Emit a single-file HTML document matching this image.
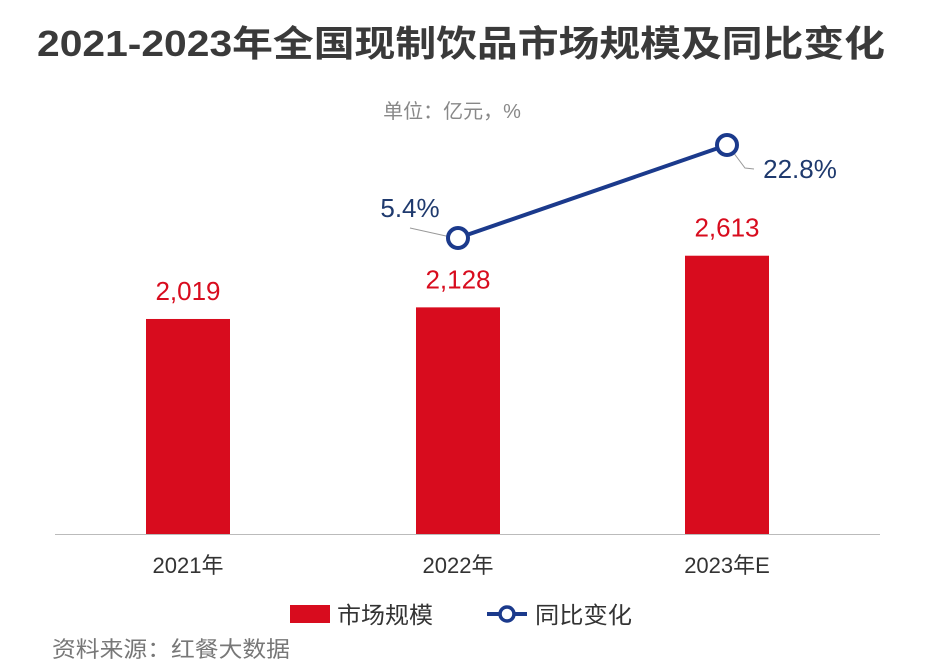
<!DOCTYPE html>
<html><head><meta charset="utf-8"><style>
body{margin:0;background:#fff;}
svg{display:block;font-family:"Liberation Sans","Noto Sans CJK SC",sans-serif;}
</style></head><body>
<svg id="c" width="931" height="672" viewBox="0 0 931 672" xmlns="http://www.w3.org/2000/svg">
<text x="37" y="56" font-size="36" font-weight="bold" fill="#3a3a3a" textLength="848" lengthAdjust="spacingAndGlyphs">2021-2023年全国现制饮品市场规模及同比变化</text>
<text x="452" y="118" text-anchor="middle" font-size="20" fill="#888">单位：亿元，%</text>
<line x1="55" y1="534.5" x2="880" y2="534.5" stroke="#bbb" stroke-width="1"/>
<g id="bars"></g><g id="line"></g><g id="xl"></g>
<g>
<rect x="290" y="605" width="40" height="18" fill="#d80c1e"/>
<text x="337" y="623" font-size="23" fill="#333" textLength="96" lengthAdjust="spacingAndGlyphs">市场规模</text>
<line x1="487" y1="614" x2="527" y2="614" stroke="#1b3a8c" stroke-width="4"/>
<circle cx="507" cy="614" r="7" fill="#fff" stroke="#1b3a8c" stroke-width="3.5"/>
<text x="535" y="623" font-size="23" fill="#333" textLength="97" lengthAdjust="spacingAndGlyphs">同比变化</text>
</g>
<text x="52" y="657" font-size="22" fill="#777" textLength="238" lengthAdjust="spacingAndGlyphs">资料来源：红餐大数据</text>
</svg>
<script>
const categories=["2021年","2022年","2023年E"];
const marketSize=[2019,2128,2613];
const valueLabels=["2,019","2,128","2,613"];
const yoy=[null,5.4,22.8];
const yoyLabels=["","5.4%","22.8%"];
const NS="http://www.w3.org/2000/svg";
const centers=[188,458,727];
const xAt=i=>centers[i];
const yBar=v=>534-v*0.1065;
const yLine=v=>238-(v-5.4)*5.345;
function mk(t,a,p,txt){const e=document.createElementNS(NS,t);for(const k in a)e.setAttribute(k,a[k]);if(txt!=null)e.textContent=txt;p.appendChild(e);return e;}
const bars=document.getElementById('bars'),line=document.getElementById('line'),xl=document.getElementById('xl');
categories.forEach((c,i)=>{
 const y=yBar(marketSize[i]);
 const r=mk('rect',{x:xAt(i)-42,y:y,width:84,height:534-y,fill:'#d80c1e'},bars);
 
 
 const t=mk('text',{x:xAt(i),y:y-19,'text-anchor':'middle','font-size':26,fill:'#d80c1e'},bars,valueLabels[i]);
 
 
 const l=mk('text',{x:xAt(i),y:573,'text-anchor':'middle','font-size':22,fill:'#333'},xl,c);
 
 
});
const pts=[];yoy.forEach((v,i)=>{if(v!=null)pts.push([xAt(i),yLine(v),i]);});
const pl=mk('polyline',{points:pts.map(p=>p[0]+','+p[1]).join(' '),fill:'none',stroke:'#1b3a8c','stroke-width':4},line);


pts.forEach((p,k)=>{
 let ld,lbl;
 if(k===0){ld=mk('polyline',{points:(p[0]-48)+','+(p[1]-10)+' '+(p[0]-3)+','+p[1],fill:'none',stroke:'#999','stroke-width':1},line);
  lbl=mk('text',{x:p[0]-48,y:p[1]-21,'text-anchor':'middle','font-size':26,fill:'#1f3a6e'},line,yoyLabels[p[2]]);}
 else{ld=mk('polyline',{points:(p[0]+3)+','+(p[1]+3)+' '+(p[0]+18)+','+(p[1]+23)+' '+(p[0]+27)+','+(p[1]+24),fill:'none',stroke:'#999','stroke-width':1},line);
  lbl=mk('text',{x:p[0]+73,y:p[1]+33,'text-anchor':'middle','font-size':26,fill:'#1f3a6e'},line,yoyLabels[p[2]]);}
 
 
 
 
 const c=mk('circle',{cx:p[0],cy:p[1],r:10,fill:'#fff',stroke:'#1b3a8c','stroke-width':4},line);
 
 
});
</script>
</body></html>
